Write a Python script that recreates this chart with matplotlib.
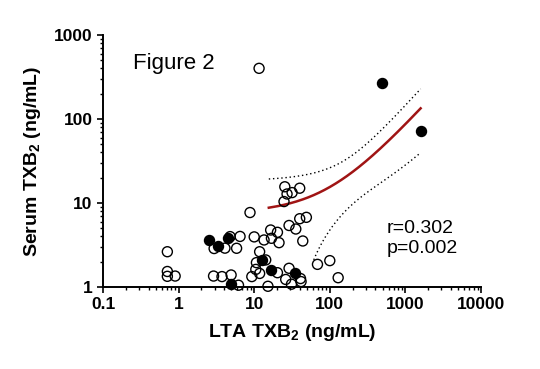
import numpy as np
import matplotlib
matplotlib.use("Agg")
import matplotlib.pyplot as plt
from matplotlib.ticker import LogLocator, FixedLocator, FixedFormatter, NullFormatter

plt.rcParams['font.family'] = ['Liberation Sans', 'DejaVu Sans']
plt.rcParams['mathtext.fontset'] = 'custom'
plt.rcParams['mathtext.rm'] = 'Liberation Sans:bold'
plt.rcParams['mathtext.it'] = 'Liberation Sans:bold:italic'
plt.rcParams['mathtext.bf'] = 'Liberation Sans:bold'

# open circles (LTA TXB2 vs serum TXB2, ng/mL)
open_lta = [11.6, 25.4, 40, 31.7, 27.2, 24.8, 8.8, 28.9, 40, 49,
            35.5, 16.5, 20.3, 10.0, 13.5, 16.9, 21.3, 43.9, 6.5, 4.8,
            2.95, 4.1, 5.85, 0.71, 0.71, 0.71, 0.9, 2.9, 3.75, 4.95,
            6.2, 11.8, 10.7, 14.2, 10.5, 11.8, 9.3, 15.2, 20.3, 26.1,
            28.9, 31.1, 41.7, 41, 68.7, 100, 129]
open_serum = [401, 15.6, 15.0, 13.3, 12.8, 10.4, 7.7, 5.4, 6.5, 6.75,
              4.9, 4.77, 4.48, 3.95, 3.63, 3.8, 3.37, 3.53, 4.0, 3.98,
              2.87, 2.9, 2.89, 2.63, 1.53, 1.34, 1.35, 1.35, 1.33, 1.39,
              1.05, 2.63, 1.95, 2.1, 1.62, 1.45, 1.33, 1.02, 1.48, 1.23,
              1.67, 1.08, 1.16, 1.26, 1.86, 2.06, 1.29]

# filled circles
filled_lta = [483, 1590, 2.5, 3.32, 4.5, 12.8, 16.9, 34.4, 5.0]
filled_serum = [271, 72, 3.63, 3.1, 3.85, 2.08, 1.6, 1.48, 1.1]

# linear regression line and 95% band
fit_intercept = 7.55
fit_slope = 0.0795
fit_x_start, fit_x_end = 15.6, 1590
band_center = 50
band_min = 10.3
band_growth = 0.0037
band_floor = 2.0

x_ticks = [0.1, 1, 10, 100, 1000, 10000]
x_tick_labels = ['0.1', '1', '10', '100', '1000', '10000']
y_ticks = [1, 10, 100, 1000]
y_tick_labels = ['1', '10', '100', '1000']

fig = plt.figure(figsize=(5.4, 3.69), dpi=100)
ax = fig.add_axes([103 / 540, 1 - 287 / 369, 378 / 540, 252 / 369])

fit_x = np.linspace(fit_x_start, fit_x_end, 1000)
fit_y = fit_intercept + fit_slope * fit_x
half = np.sqrt(band_min ** 2 + band_growth * (fit_x - band_center) ** 2)
upper = fit_y + half
lower = fit_y - half
lower = np.where(lower >= band_floor, lower, np.nan)

ax.plot(fit_x, fit_y, color='#a01414', lw=1.8, zorder=2)
ax.plot(fit_x, upper, color='black', lw=1.0, ls=(0, (1, 2)), zorder=2)
ax.plot(fit_x, lower, color='black', lw=1.0, ls=(0, (1, 2)), zorder=2)

ax.scatter(open_lta, open_serum, s=52, facecolors='none', edgecolors='black',
           linewidths=1.0, clip_on=False, zorder=3)
ax.scatter(filled_lta, filled_serum, s=52, facecolors='black', edgecolors='black',
           linewidths=1.0, clip_on=False, zorder=4)

ax.set_xscale('log')
ax.set_yscale('log')
ax.set_xlim(0.1, 10000)
ax.set_ylim(1, 1000)

ax.xaxis.set_major_locator(FixedLocator(x_ticks))
ax.xaxis.set_major_formatter(FixedFormatter(x_tick_labels))
ax.xaxis.set_minor_locator(LogLocator(base=10, subs=np.arange(2, 10)))
ax.xaxis.set_minor_formatter(NullFormatter())
ax.yaxis.set_major_locator(FixedLocator(y_ticks))
ax.yaxis.set_major_formatter(FixedFormatter(y_tick_labels))
ax.yaxis.set_minor_locator(LogLocator(base=10, subs=np.arange(2, 10)))
ax.yaxis.set_minor_formatter(NullFormatter())

for side in ['top', 'right']:
    ax.spines[side].set_visible(False)
for side in ['left', 'bottom']:
    ax.spines[side].set_linewidth(1.4)

ax.tick_params(which='major', length=4.5, width=1.2, pad=3, labelsize=12.5)
ax.tick_params(which='minor', length=2.5, width=1.0)
for lab in ax.get_xticklabels() + ax.get_yticklabels():
    lab.set_fontweight('bold')

ax.set_xlabel('LTA TXB$_2$ (ng/mL)', fontsize=14, fontweight='bold', labelpad=7)
ax.set_ylabel('Serum TXB$_2$ (ng/mL)', fontsize=14, fontweight='bold', labelpad=8)

fig.text(133 / 540, 1 - 69 / 369, 'Figure 2', fontsize=16, ha='left', va='baseline')
fig.text(387 / 540, 1 - 233 / 369, 'r=0.302', fontsize=14, ha='left', va='baseline')
fig.text(387 / 540, 1 - 253 / 369, 'p=0.002', fontsize=14, ha='left', va='baseline')

fig.savefig('out.png', dpi=100)
